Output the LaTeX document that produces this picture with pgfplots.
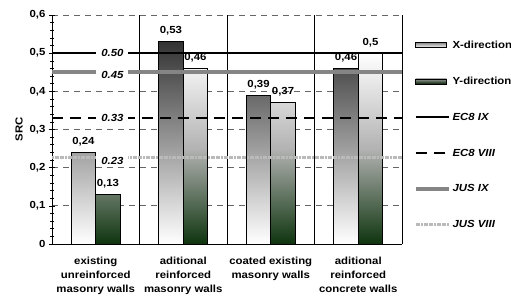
\documentclass[border=0pt]{standalone}
\usepackage{fontspec}
\setmainfont{Liberation Sans}[FakeStretch=1.11]
\usepackage{pgfplots}
\pgfplotsset{compat=1.18}
\definecolor{ydark}{RGB}{14,52,14}
\newcommand{\ff}{\fontsize{10.3}{13.8}\selectfont\bfseries}
\pgfplotsset{
  lineleg/.style={legend image code/.code={\draw[##1] (0bp,0bp) -- (33bp,0bp);}},
  xleg/.style={legend image code/.code={\shade[top color=black!45, bottom color=white, draw=black, line width=0.6bp] (0bp,-2.5bp) rectangle (31bp,2.5bp);}},
  yleg/.style={legend image code/.code={\shade[top color=black!40, bottom color=ydark!70!black, draw=black, line width=0.6bp] (0bp,-2.5bp) rectangle (31bp,2.5bp);}},
}
\begin{document}
\begin{tikzpicture}
\begin{axis}[
  scale only axis, width=350bp, height=229bp,
  xmin=-0.5, xmax=3.5, ymin=0, ymax=0.6,
  axis x line*=bottom, axis y line*=left,
  every non boxed x axis/.append style={x axis line style=-},
  every non boxed y axis/.append style={y axis line style=-},
  axis line style={black, line width=0.7bp},
  /pgf/number format/assume math mode=true,
  /pgf/number format/use comma,
  ytick={0,0.1,0.2,0.3,0.4,0.5,0.6},
  minor y tick num=4,
  ymajorgrids,
  major grid style={black!60, line width=0.7bp, dash pattern=on 6bp off 5bp},
  tick align=center,
  major tick length=6bp, minor tick length=4bp,
  every tick/.style={black, line width=0.6bp},
  xtick={0,1,2,3},
  xticklabels={existing\\unreinforced\\masonry walls, aditional\\reinforced\\masonry walls, coated existing\\masonry walls, aditional\\reinforced\\concrete walls},
  x tick label style={align=center, font=\ff, yshift=-7bp},
  y tick label style={font=\ff},
  xtick style={draw=none},
  extra x ticks={0.5,1.5,2.5,3.5},
  extra x tick labels={},
  extra x tick style={grid=major, major grid style={black, solid, line width=0.7bp}, tick style={draw=black}, tick align=outside},
  ylabel={SRC}, ylabel style={font=\ff},
  legend style={at={(1.0335,0.897)}, anchor=north west, draw=none, fill=none, inner sep=0pt, font=\ff, row sep=23.2bp, cells={anchor=west}, nodes={inner xsep=2bp}},
  legend cell align=left,
  every node near coord/.append style={font=\ff, anchor=base, yshift=8bp, inner sep=0pt},
]
\addplot[ybar, bar width=0.28, bar shift=-0.14, draw=black, line width=0.6bp, top color=black!80, bottom color=white, nodes near coords, nodes near coords style={xshift=-12.25bp}, xleg]
  coordinates {(0,0.24) (1,0.53) (2,0.39) (3,0.46)};
\addlegendentry{X-direction}
\addplot[ybar, bar width=0.28, bar shift=0.14, draw=black, line width=0.6bp, top color=white, bottom color=ydark, middle color=black!30, nodes near coords, nodes near coords style={xshift=12.25bp}, yleg]
  coordinates {(0,0.13) (1,0.46) (2,0.37) (3,0.5)};
\addlegendentry{Y-direction}
\addplot[black, line width=2bp, lineleg]
  coordinates {(-0.5,0.5) (3.5,0.5)};
\addlegendentry{\itshape EC8 IX}
\addplot[black, line width=2.6bp, dash pattern=on 11bp off 7bp, lineleg]
  coordinates {(-0.5,0.33) (3.5,0.33)};
\addlegendentry{\itshape EC8 VIII}
\addplot[black!48, line width=3.6bp, lineleg]
  coordinates {(-0.5,0.45) (3.5,0.45)};
\addlegendentry{\itshape JUS IX}
\addplot[black!27, line width=3bp, dash pattern=on 2bp off 0.6bp, lineleg]
  coordinates {(-0.5,0.226) (3.5,0.226)};
\addlegendentry{\itshape JUS VIII}
\node[fill=white, inner xsep=5bp, inner ysep=1bp, font=\ff\itshape] at (axis cs:0.19,0.5) {0.50};
\node[fill=white, inner xsep=5bp, inner ysep=1.5bp, font=\ff\itshape] at (axis cs:0.19,0.442) {0.45};
\node[fill=white, inner xsep=5bp, inner ysep=1bp, font=\ff\itshape] at (axis cs:0.19,0.33) {0.33};
\node[fill=white, inner xsep=5bp, inner ysep=1.5bp, font=\ff\itshape] at (axis cs:0.19,0.217) {0.23};
\draw[black, line width=0.6bp] (rel axis cs:1.0257,1) rectangle (rel axis cs:1.34,-0.0087);
\end{axis}
\pgfresetboundingbox
\path[use as bounding box] (-52bp,-54bp) rectangle (459bp,244bp);
\end{tikzpicture}
\end{document}
